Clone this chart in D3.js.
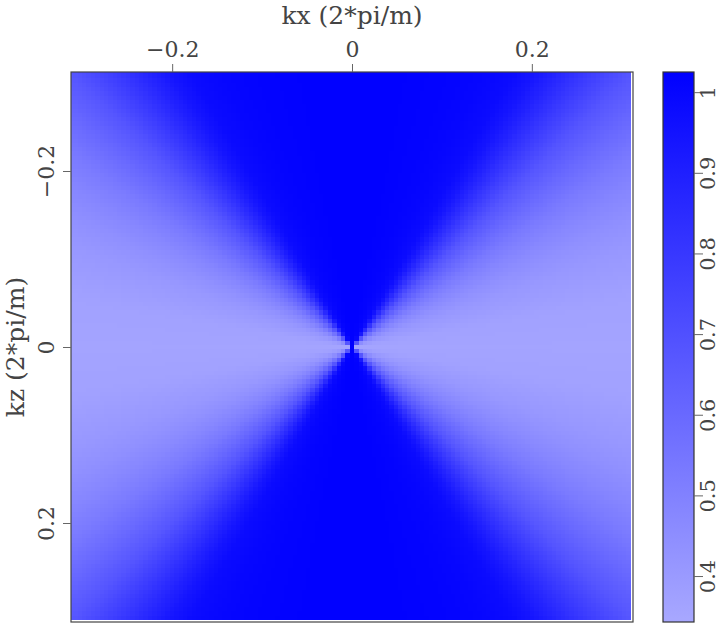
<!DOCTYPE html>
<html>
<head>
<meta charset="utf-8">
<script src="https://cdn.jsdelivr.net/npm/d3@7"></script>
<style>
  body { margin: 0; background: #fff; }
  text { font-family: "DejaVu Serif", "Liberation Serif", serif; fill: #444; }
</style>
</head>
<body>
<div id="chart"></div>
<script>
// wavenumber grid
var nk = 128,
    kMax = 0.3125;

// value vs angle from the kz axis (degrees)
var profileAngle = [0, 10, 20, 25, 30, 33, 36, 40, 45, 50, 55, 60, 65, 70, 75, 80, 90];
var profileValue = [1.02, 1.02, 1.01, 1.0, 0.98, 0.94, 0.88, 0.79, 0.68, 0.60, 0.53, 0.48, 0.44, 0.41, 0.39, 0.37, 0.36];

var xTicks = [-0.2, 0, 0.2],
    zTicks = [-0.2, 0, 0.2],
    cbTicks = [0.4, 0.5, 0.6, 0.7, 0.8, 0.9, 1],
    cbRange = [0.343, 1.025];

var svg = d3.select("#chart").append("svg").attr("width", 722).attr("height", 625),
    margin = {top: 72, left: 71},
    width = 562,
    height = 550;

var x = d3.scaleLinear().domain([-kMax, kMax]).range([margin.left, margin.left + width]),
    z = d3.scaleLinear().domain([-kMax, kMax]).range([margin.top, margin.top + height]),
    profile = d3.scaleLinear().domain(profileAngle).range(profileValue).clamp(true),
    color = d3.scaleLinear().domain(cbRange).range(["#a8a8ff", "#0000ff"]).clamp(true);

var dk = 2 * kMax / nk;
var cells = [];
for (var j = 0; j < nk; j++) {
    for (var i = 0; i < nk; i++) {
        var kx = -kMax + i * dk, kz = -kMax + j * dk;
        var ang = (kx === 0 && kz === 0) ? 0 : Math.atan2(Math.abs(kx), Math.abs(kz)) * 180 / Math.PI;
        cells.push({kx: kx, kz: kz, v: profile(ang)});
    }
}

svg.append("clipPath").attr("id", "clip")
    .append("rect").attr("x", margin.left).attr("y", margin.top).attr("width", width).attr("height", height);

svg.append("g").attr("clip-path", "url(#clip)")
    .selectAll("rect")
    .data(cells)
    .enter().append("rect")
    .attr("x", function(d) { return x(d.kx - dk / 2); })
    .attr("y", function(d) { return z(d.kz - dk / 2); })
    .attr("width", x(dk) - x(0) + 0.6)
    .attr("height", z(dk) - z(0) + 0.6)
    .attr("fill", function(d) { return color(d.v); })
    .attr("shape-rendering", "crispEdges");

svg.append("rect")
    .attr("x", margin.left).attr("y", margin.top).attr("width", width).attr("height", height)
    .attr("fill", "none").attr("stroke", "#444").attr("stroke-width", 1.2);

// top axis
var gx = svg.append("g")
    .attr("transform", "translate(0," + margin.top + ")")
    .call(d3.axisTop(x).tickValues(xTicks).tickSize(8).tickPadding(7).tickFormat(d3.format("")));
gx.select(".domain").remove();
gx.selectAll("line").attr("stroke", "#666");
gx.selectAll("text").style("font-size", "22px").attr("fill", "#444");

svg.append("text")
    .attr("x", x(0)).attr("y", 24)
    .attr("text-anchor", "middle")
    .style("font-size", "25px")
    .text("kx (2*pi/m)");

// left axis
var gz = svg.append("g")
    .attr("transform", "translate(" + margin.left + ",0)")
    .call(d3.axisLeft(z).tickValues(zTicks).tickSize(8).tickFormat(d3.format("")));
gz.select(".domain").remove();
gz.selectAll("line").attr("stroke", "#666");
gz.selectAll("text")
    .style("font-size", "22px")
    .attr("fill", "#444")
    .attr("x", null).attr("dy", null)
    .attr("text-anchor", "middle")
    .attr("transform", "translate(-17,0) rotate(-90)");

svg.append("text")
    .attr("transform", "translate(24," + z(0) + ") rotate(-90)")
    .attr("text-anchor", "middle")
    .style("font-size", "25px")
    .text("kz (2*pi/m)");

// colorbar
var cbX = 663, cbW = 31;
var cb = d3.scaleLinear().domain(cbRange).range([margin.top + height, margin.top]);
var grad = svg.append("defs").append("linearGradient")
    .attr("id", "cbgrad").attr("x1", 0).attr("y1", 1).attr("x2", 0).attr("y2", 0);
grad.append("stop").attr("offset", 0).attr("stop-color", color(cbRange[0]));
grad.append("stop").attr("offset", 1).attr("stop-color", color(cbRange[1]));

svg.append("rect")
    .attr("x", cbX).attr("y", margin.top).attr("width", cbW).attr("height", height)
    .attr("fill", "url(#cbgrad)").attr("stroke", "#333").attr("stroke-width", 1.2);

var gc = svg.append("g")
    .attr("transform", "translate(" + (cbX + cbW) + ",0)")
    .call(d3.axisRight(cb).tickValues(cbTicks).tickSize(9).tickFormat(d3.format("")));
gc.select(".domain").remove();
gc.selectAll("line").attr("stroke", "#666");
gc.selectAll("text")
    .style("font-size", "21px")
    .attr("fill", "#444")
    .attr("x", null).attr("dy", null)
    .attr("text-anchor", "middle")
    .attr("transform", "translate(21,0) rotate(-90)");
</script>
</body>
</html>
